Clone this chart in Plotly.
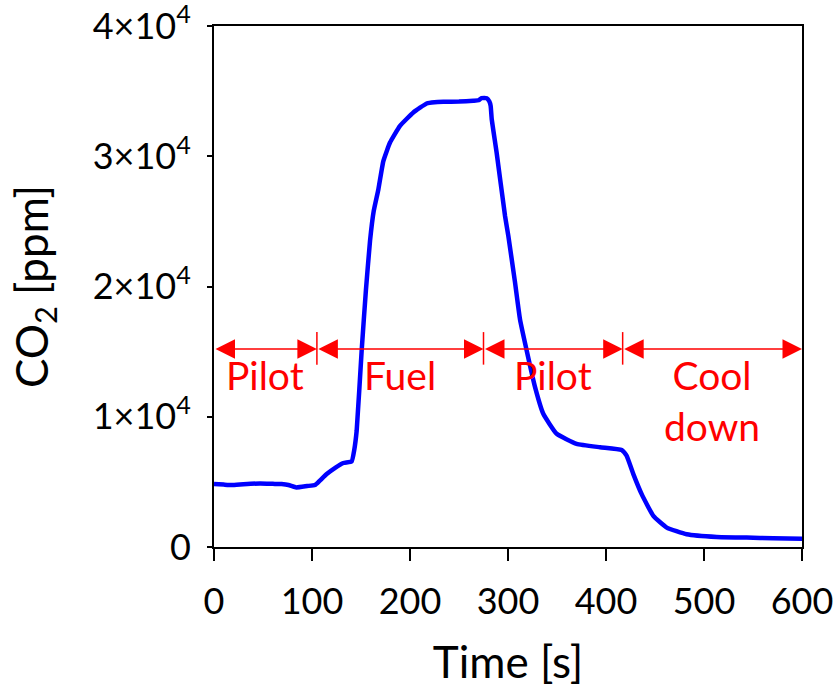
import plotly.graph_objects as go

# ---- data ----
time_s = [0, 10, 18, 30, 47, 60, 69, 76, 84, 95, 103, 108, 115, 124, 132, 140.5, 143,
          145.6, 150.7, 155, 159.2, 163, 167.7, 172.8, 179.6, 189.8, 203.4, 217, 225, 234,
          250, 264.6, 270, 273, 278.3, 281, 282.3, 283.4, 288.4, 297, 300.3, 307, 312.2,
          319, 327.6, 336, 349.7, 370, 393.9, 416, 421, 427.9, 436.4, 448.3, 462, 482.3,
          513, 543.5, 570.7, 600]
co2_ppm = [4830, 4790, 4760, 4820, 4880, 4850, 4830, 4760, 4570, 4680, 4760, 5100, 5600,
           6100, 6450, 6580, 7400,
           8940, 15110, 19700, 23500, 25800, 27450, 29630, 31050, 32330, 33360, 34050, 34150,
           34180, 34200, 34260, 34300, 34460, 34460, 34200, 33870, 32850, 30280, 25400, 23900,
           20400, 17500, 15110, 12280, 10230, 8690, 7920, 7660, 7450, 7020, 5600, 4060, 2390,
           1490, 980, 770, 720, 670, 640]

phase_bounds = [0, 105, 275, 417, 600]
phase_labels = ["Pilot", "Fuel", "Pilot", "Cool<br>down"]
arrow_y = 15200
bar_top = 16500
bar_bottom = 14000
label_y = 15100

y_tickvals = [0, 10000, 20000, 30000, 40000]
y_ticktext = ["0", "1×10<sup>4</sup>", "2×10<sup>4</sup>", "3×10<sup>4</sup>", "4×10<sup>4</sup>"]
x_tickvals = [0, 100, 200, 300, 400, 500, 600]

FONT = "Lato"
RED = "#FF0000"

fig = go.Figure()
fig.add_trace(go.Scatter(x=time_s, y=co2_ppm, mode="lines",
                         line=dict(color="#0000FF", width=4.5, shape="spline", smoothing=0.4),
                         showlegend=False, hoverinfo="skip"))

# phase arrows
for i in range(len(phase_labels)):
    x0, x1 = phase_bounds[i], phase_bounds[i + 1]
    fig.add_annotation(x=x1, y=arrow_y, ax=x0, ay=arrow_y, xref="x", yref="y",
                       axref="x", ayref="y", text="", showarrow=True,
                       arrowhead=2, arrowside="end+start", arrowsize=2.6,
                       arrowwidth=1.5, arrowcolor=RED, standoff=0, startstandoff=0)
    fig.add_annotation(x=(x0 + x1) / 2, y=label_y, xref="x", yref="y",
                       text=phase_labels[i], showarrow=False, yanchor="top",
                       font=dict(family=FONT, size=39, color=RED))

# boundary bars
for xb in phase_bounds[1:-1]:
    fig.add_shape(type="line", x0=xb, x1=xb, y0=bar_bottom, y1=bar_top,
                  xref="x", yref="y", line=dict(color=RED, width=1.5))

fig.update_layout(
    width=838, height=689,
    margin=dict(l=214, r=36, t=26, b=142, autoexpand=False),
    plot_bgcolor="white", paper_bgcolor="white",
    font=dict(family=FONT, size=36, color="black"),
)
fig.update_xaxes(range=[0, 600], tickvals=x_tickvals, ticks="outside", ticklen=12,
                 tickwidth=2, tickcolor="black", showline=True, linewidth=2,
                 linecolor="black", mirror=True, showgrid=False, zeroline=False,
                 automargin=False, ticklabelstandoff=10, ticklabeloverflow="allow",
                 title=dict(text="Time [s]", font=dict(family=FONT, size=44), standoff=26),
                 tickfont=dict(family=FONT, size=36))
fig.update_yaxes(range=[0, 40000], tickvals=y_tickvals, ticktext=y_ticktext,
                 ticks="outside", ticklen=5, tickwidth=2, tickcolor="black",
                 showline=True, linewidth=2, linecolor="black", mirror=True,
                 showgrid=False, zeroline=False, automargin=False, ticklabelstandoff=9,
                 ticklabeloverflow="allow",
                 title=dict(text="CO<sub>2</sub> [ppm]", font=dict(family=FONT, size=44), standoff=30),
                 tickfont=dict(family=FONT, size=36))

fig.write_html("out.html")
